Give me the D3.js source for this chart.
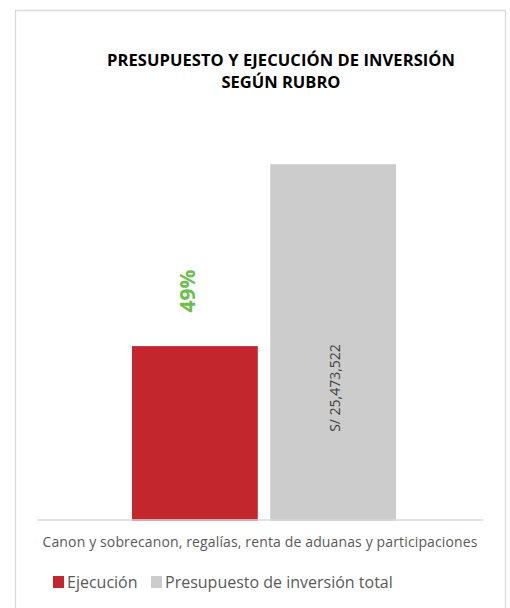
<!DOCTYPE html>
<html>
<head>
<meta charset="utf-8">
<script src="https://cdn.jsdelivr.net/npm/d3@7"></script>
<style>
  body { margin: 0; background: #fff; }
  text { font-family: "Open Sans", "Liberation Sans", sans-serif; }
</style>
</head>
<body>
<svg id="container" width="510" height="608"></svg>
<script>
let width = 510,
    height = 608;

// data
let categories = ["Canon y sobrecanon, regalías, renta de aduanas y participaciones"]
let seriesNames = ["Ejecución", "Presupuesto de inversión total"]
let ejecucion = [12450000]
let presupuesto = [25473522]
let pctLabels = ["49%"]
let budgetLabels = ["S/ 25,473,522"]

let colors = ["#C4262E", "#CCCCCC"]

let svg = d3.select("#container")

// chart frame
svg.append("rect")
    .attr("x", 15.5)
    .attr("y", 10.5)
    .attr("width", 490)
    .attr("height", 610)
    .attr("fill", "#fff")
    .attr("stroke", "#D9D9D9")
    .attr("stroke-width", 1.3)

// title
let title = svg.append("text")
    .attr("x", 281)
    .attr("y", 66)
    .attr("text-anchor", "middle")
    .attr("fill", "#000")
    .attr("font-size", "16.5px")
    .attr("font-weight", 700)
title.append("tspan").attr("x", 281).attr("textLength", 348).text("PRESUPUESTO Y EJECUCIÓN DE INVERSIÓN")
title.append("tspan").attr("x", 281).attr("dy", 22).text("SEGÚN RUBRO")

// scales
let xScale = d3.scaleBand()
    .domain(categories)
    .range([37, 483])

let inner = d3.scaleBand()
    .domain(seriesNames)
    .range([xScale(categories[0]) + 95, xScale(categories[0]) + 359])
    .paddingInner(0.09)

let yScale = d3.scaleLinear()
    .domain([0, 30000000])
    .range([520, 101])

let rows = categories.map((c, i) => ({
    cat: c,
    vals: [ejecucion[i], presupuesto[i]]
}))

let g = svg.append("g")

rows.forEach((r, i) => {
    g.selectAll(".bar" + i)
        .data(r.vals)
        .enter()
        .append("rect")
        .attr("x", (d, j) => inner(seriesNames[j]))
        .attr("y", d => yScale(d))
        .attr("width", inner.bandwidth())
        .attr("height", d => yScale(0) - yScale(d) + 1)
        .attr("fill", (d, j) => colors[j])
})

// axis line
let xAxis = svg.append("g")
    .attr("transform", "translate(0,519.5)")
    .call(d3.axisBottom(xScale).tickSize(0).tickFormat(""))
xAxis.select(".domain")
    .attr("stroke", "#D9D9D9")
    .attr("stroke-width", 1.3)

// category label
svg.append("text")
    .attr("x", 260)
    .attr("y", 547)
    .attr("text-anchor", "middle")
    .attr("fill", "#595959")
    .attr("font-size", "14px")
    .attr("textLength", 435)
    .text(categories[0])

// percent label above the execution bar
let exX = inner(seriesNames[0]) + inner.bandwidth() / 2
svg.append("text")
    .attr("transform", "translate(" + (exX + 0) + "," + (yScale(ejecucion[0]) - 55) + ") rotate(-90)")
    .attr("text-anchor", "middle")
    .attr("fill", "#6ABF4B")
    .attr("font-size", "21px")
    .attr("font-weight", 700)
    .text(pctLabels[0])

// budget label inside the grey bar
let prX = inner(seriesNames[1]) + inner.bandwidth() / 2
svg.append("text")
    .attr("transform", "translate(" + (prX + 7) + "," + 388 + ") rotate(-90)")
    .attr("text-anchor", "middle")
    .attr("fill", "#404040")
    .attr("font-size", "14px")
    .text(budgetLabels[0])

// legend
let legendX = [53, 151]
let legend = svg.append("g")
seriesNames.forEach((s, i) => {
    legend.append("rect")
        .attr("x", legendX[i])
        .attr("y", 576)
        .attr("width", 11)
        .attr("height", 12)
        .attr("fill", colors[i])
    legend.append("text")
        .attr("x", legendX[i] + 14)
        .attr("y", 588)
        .attr("fill", "#595959")
        .attr("font-size", "16px")
        .text(s)
})
</script>
</body>
</html>
